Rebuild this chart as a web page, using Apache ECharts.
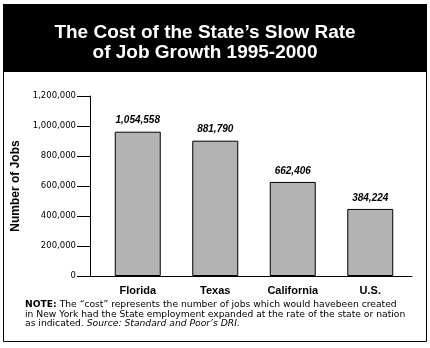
<!DOCTYPE html>
<html>
<head>
<meta charset="utf-8">
<script src="https://cdn.jsdelivr.net/npm/echarts@6/dist/echarts.min.js"></script>
<style>
html,body{margin:0;padding:0;background:#fff;}
#c{width:430px;height:348px;}
</style>
</head>
<body>
<div id="c"></div>
<script>
var categories = ['Florida', 'Texas', 'California', 'U.S.'];
// bar heights as drawn in the picture
var barValues = [962000, 902000, 627000, 447000];
// value labels as printed above the bars
var valueLabels = ['1,054,558', '881,790', '662,406', '384,224'];
var yTicks = [0, 200000, 400000, 600000, 800000, 1000000, 1200000];
var titleLines = ["The Cost of the State\u2019s Slow Rate", "of Job Growth 1995-2000"];
var yAxisTitle = 'Number of Jobs';

var FONT = '"Liberation Sans", Arial, Helvetica, sans-serif';
var WIDE = '"DejaVu Sans", Verdana, sans-serif';
function fmt(v){ return v.toString().replace(/\B(?=(\d{3})+(?!\d))/g, ','); }

var chart = echarts.init(document.getElementById('c'), null, {renderer:'canvas'});
chart.setOption({
  animation: false,
  backgroundColor: '#fff',
  title: {
    text: titleLines.join('\n'),
    left: 200, top: 18, textAlign: 'center',
    textStyle: {color:'#fff', fontFamily: FONT, fontWeight: 900, fontSize: 19, lineHeight: 20}
  },
  graphic: [
    {type:'rect', z:-1, shape:{x:3.5, y:4.5, width:423, height:337}, style:{fill:'#fff', stroke:'#000', lineWidth:1}},
    {type:'rect', z:0, shape:{x:3, y:4, width:424, height:68}, style:{fill:'#000'}},
    {type:'text', left:25, top:300, style:{
      text: '{b|NOTE:} The \u201ccost\u201d represents the number of jobs which would havebeen created\nin New York had the State employment expanded at the rate of the state or nation\nas indicated. {i|Source: Standard and Poor\u2019s DRI.}',
      font: '9.2px ' + WIDE, fill:'#000', lineHeight: 9.5,
      rich: {
        b: {fontWeight:'bold', fontSize: 9.2, fontFamily: WIDE, fill:'#000'},
        i: {fontStyle:'italic', fontSize: 9.2, fontFamily: WIDE, fill:'#000'}
      }
    }}
  ],
  grid: [
    {left: 90, right: 18, top: 96, bottom: 72},
    {left: 99, right: 21, top: 96, bottom: 72}
  ],
  xAxis: [
    {type:'category', gridIndex:0, data: categories,
      axisLine:{show:true, lineStyle:{color:'#000', width:1}},
      axisTick:{show:false}, axisLabel:{show:false}, splitLine:{show:false}},
    {type:'category', gridIndex:1, data: categories,
      axisLine:{show:false}, axisTick:{show:false},
      axisLabel:{show:true, color:'#000', fontFamily: FONT, fontWeight:'bold', fontSize: 11, margin: 9}}
  ],
  yAxis: [
    {type:'value', gridIndex:0, min: yTicks[0], max: yTicks[yTicks.length-1], interval: yTicks[1]-yTicks[0],
      axisLine:{show:true, lineStyle:{color:'#000', width:1}},
      axisTick:{show:true, length:13, lineStyle:{color:'#000', width:1}},
      axisLabel:{color:'#000', fontFamily: WIDE, fontSize: 8.5, margin: 14, formatter: function(v){return fmt(v);}},
      splitLine:{show:false},
      name: yAxisTitle, nameLocation:'middle', nameRotate: 90, nameGap: 63,
      nameTextStyle:{color:'#000', fontFamily: FONT, fontWeight:'bold', fontSize: 12}},
    {type:'value', gridIndex:1, min: yTicks[0], max: yTicks[yTicks.length-1], show:false}
  ],
  series: [{
    type:'bar', xAxisIndex:1, yAxisIndex:1, data: barValues, barWidth: 46,
    itemStyle:{color:'#b3b3b3', borderColor:'#000', borderWidth:1},
    label:{show:true, position:'top', distance: 6, color:'#000', fontFamily: FONT, fontStyle:'italic', fontWeight:'bold', fontSize: 10,
      formatter: function(p){ return valueLabels[p.dataIndex]; }}
  }]
});
</script>
</body>
</html>
